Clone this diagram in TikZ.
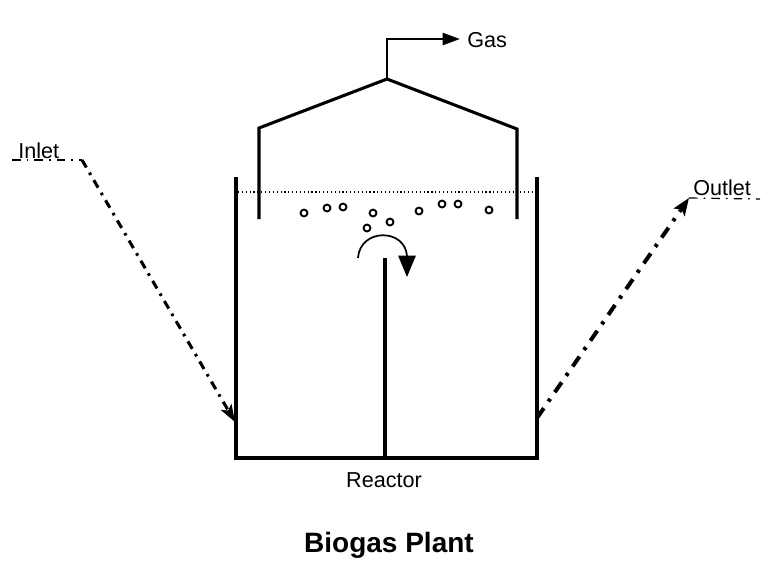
\documentclass[tikz,border=0pt]{standalone}
\usepackage{fontspec}
\setmainfont{Liberation Sans}
\usetikzlibrary{arrows.meta}

\begin{document}
\begin{tikzpicture}[x=0.75pt,y=-0.75pt,>={Triangle[length=13pt,width=9pt]},
  every node/.style={font=\fontsize{16.2}{18}\selectfont,inner sep=0pt},
  wall/.style={line width=2.9pt},
  hood/.style={line width=2.3pt,line join=miter},
  flow/.style={line width=2.3pt,dash pattern=on 6.5pt off 4.5pt on 2pt off 4.5pt},
  flowwide/.style={line width=3pt,dash pattern=on 9pt off 6pt on 2.5pt off 6pt},
  tag/.style={line width=0.9pt,dash pattern=on 6.5pt off 4.5pt on 1.2pt off 4.5pt},
  bubble/.style={draw,circle,line width=1.4pt,minimum size=5.2pt}]
\useasboundingbox (0,0) rectangle (776,583);
% tank
\coordinate (tl) at (236,177);
\coordinate (bl) at (236,458);
\coordinate (br) at (537,458);
\coordinate (tr) at (537,177);
\coordinate (bafb) at (385,458);
\coordinate (baft) at (385,258);
\draw[wall,line join=miter] (tl) -- (bl) -- (br) -- (tr);
\draw[wall] (bafb) -- (baft);
% liquid level
\coordinate (lvl) at (238,192);
\coordinate (lvr) at (534,192);
\draw[line width=0.9pt,dotted] (lvl) -- (lvr);
% gas holder
\coordinate (hbl) at (259,219);
\coordinate (hsl) at (259,128);
\coordinate (apex) at (387,79);
\coordinate (hsr) at (517,129);
\coordinate (hbr) at (517,219);
\draw[hood] (hbl) -- (hsl) -- (apex) -- (hsr) -- (hbr);
\node[anchor=base west] (gas) at (467,47) {Gas};
\coordinate (bend) at (387,39);
\coordinate (gasend) at (460,39);
\draw[->,line width=1.9pt] (apex) -- (bend) -- (gasend);
% bubbles
\foreach \x/\y [count=\i] in {304/213,327/208,343/207,373/213,367/228,390/222,419/211,442/204,458/204,489/210}
  \node[bubble] (b\i) at (\x,\y) {};
% stirring
\coordinate (stira) at (358,258);
\coordinate (stirb) at (407,256);
\coordinate (stirc) at (407,277);
\draw[-{Triangle[length=16pt,width=13pt]},line width=1.3pt] (stira) .. controls (360,228) and (405,228) .. (stirb) -- (stirc);
% inlet
\node[anchor=base west] (inlet) at (18,158) {Inlet};
\coordinate (ina) at (12,160);
\coordinate (inb) at (82,160);
\coordinate (inc) at (235,422);
\draw[tag] (ina) -- (inb);
\draw[flow,-{Stealth[length=13pt,width=9pt,inset=3pt]}] (inb) -- (inc);
% outlet
\node[anchor=base west] (outlet) at (693,195) {Outlet};
\coordinate (outa) at (537,418);
\coordinate (outb) at (689,198);
\coordinate (outc) at (760,199);
\draw[tag] (outb) -- (outc);
\draw[flowwide,-{Stealth[length=13pt,width=10pt,inset=3pt]}] (outa) -- (outb);
\node[anchor=base] (reactor) at (384,487) {Reactor};
\node[anchor=base,font=\fontsize{21}{23}\selectfont\bfseries] (title) at (389,552) {Biogas Plant};
\end{tikzpicture}
\end{document}
